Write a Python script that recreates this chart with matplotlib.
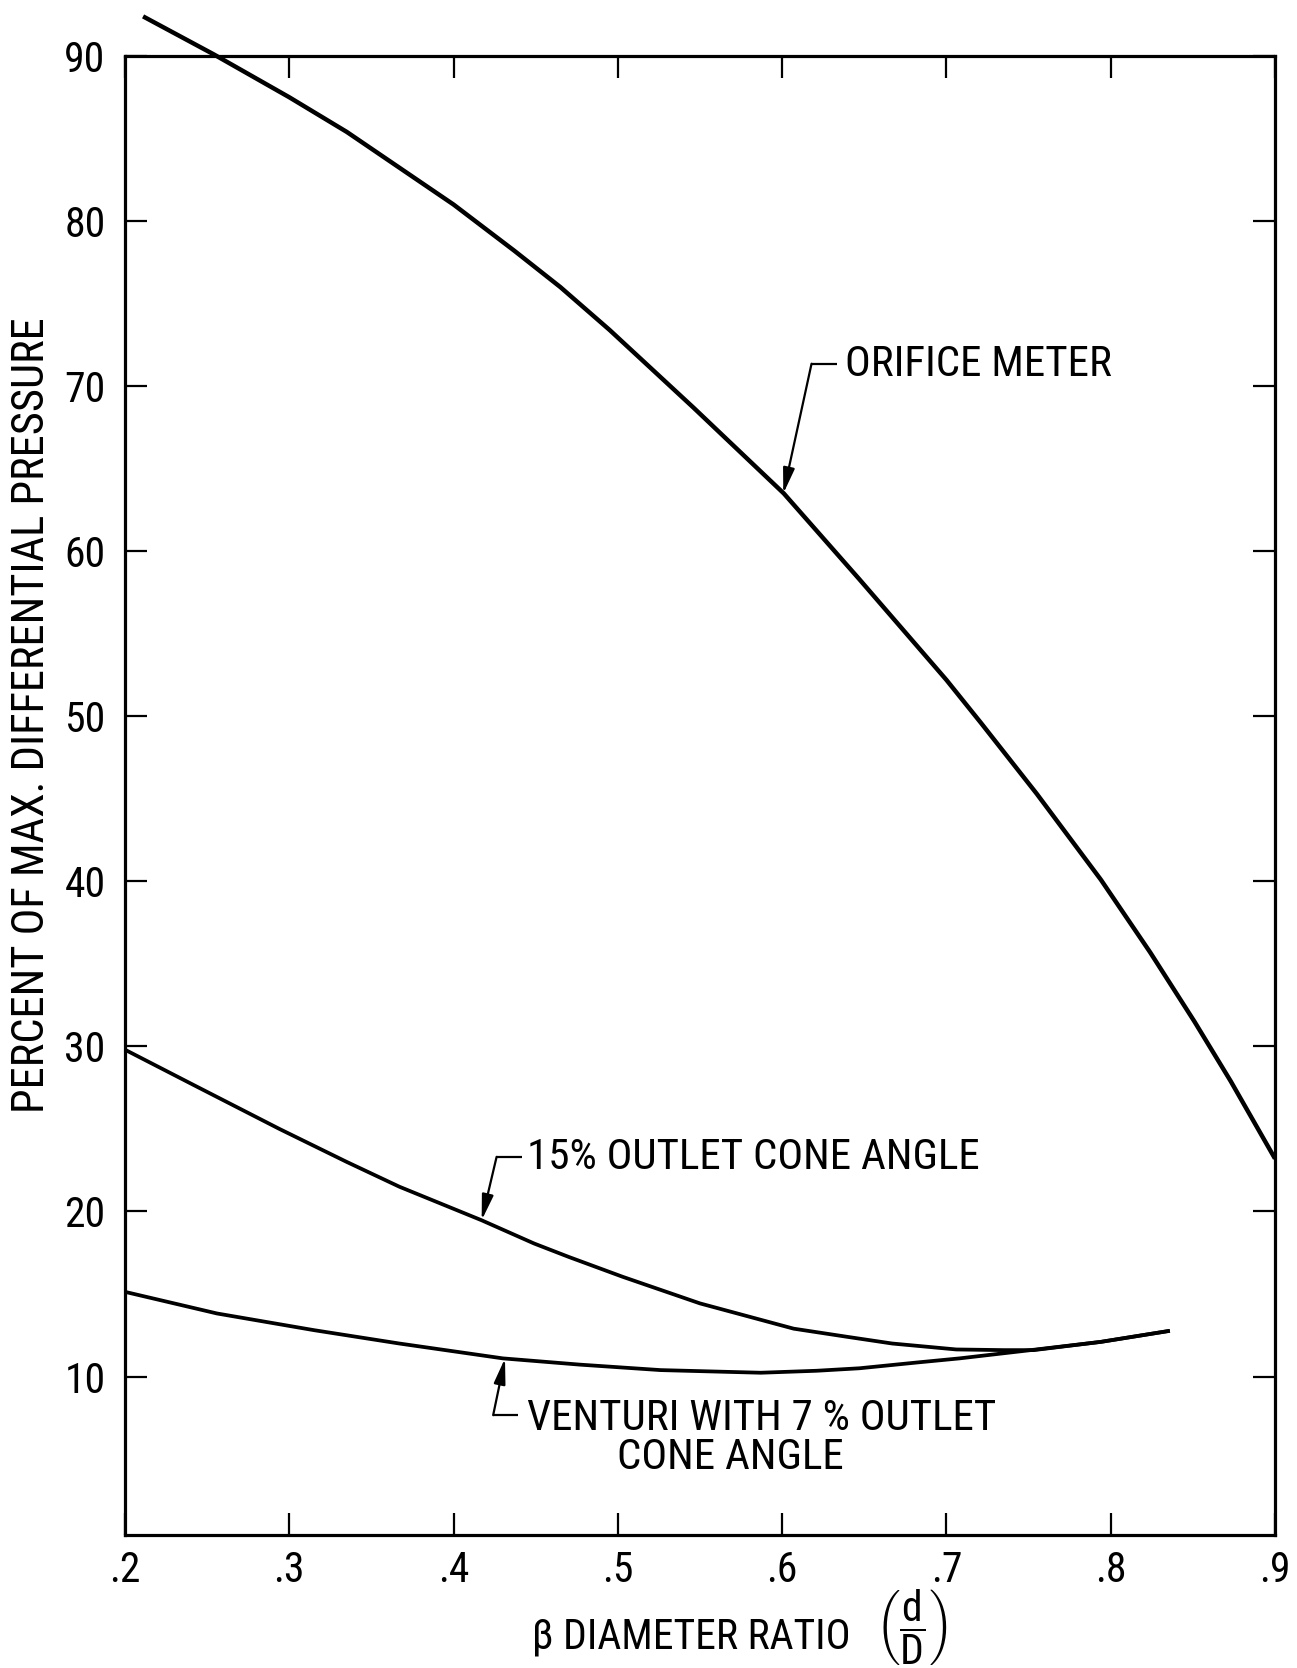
import matplotlib
matplotlib.use("Agg")
import matplotlib.pyplot as plt
from matplotlib import font_manager as fm

# ---------------- data ----------------
beta_orifice = [0.211, 0.254, 0.300, 0.335, 0.400, 0.437, 0.465, 0.495, 0.546, 0.601,
                0.647, 0.700, 0.721, 0.755, 0.794, 0.824, 0.851, 0.873, 0.900]
pct_orifice = [92.4, 90.1, 87.5, 85.4, 81.0, 78.2, 76.0, 73.4, 68.7, 63.5,
               58.3, 52.2, 49.6, 45.3, 40.1, 35.7, 31.5, 27.9, 23.2]

beta_cone15 = [0.200, 0.242, 0.294, 0.335, 0.367, 0.417, 0.449, 0.470, 0.503,
               0.550, 0.607, 0.640, 0.667, 0.706, 0.735, 0.753, 0.794, 0.836]
pct_cone15 = [29.8, 27.65, 25.0, 23.0, 21.5, 19.47, 18.06, 17.25, 16.04,
              14.43, 12.9, 12.4, 12.0, 11.64, 11.6, 11.6, 12.1, 12.77]

beta_venturi7 = [0.200, 0.256, 0.315, 0.367, 0.430, 0.477, 0.526, 0.587, 0.621,
                 0.647, 0.682, 0.708, 0.753, 0.794, 0.836]
pct_venturi7 = [15.13, 13.82, 12.81, 12.0, 11.1, 10.72, 10.39, 10.23, 10.35,
                10.5, 10.85, 11.1, 11.62, 12.1, 12.77]

x_ticks = [0.2, 0.3, 0.4, 0.5, 0.6, 0.7, 0.8, 0.9]
x_tick_labels = [".2", ".3", ".4", ".5", ".6", ".7", ".8", ".9"]
y_ticks = [10, 20, 30, 40, 50, 60, 70, 80, 90]
y_tick_labels = ["10", "20", "30", "40", "50", "60", "70", "80", "90"]

label_orifice = "ORIFICE METER"
label_cone15 = "15% OUTLET CONE ANGLE"
label_venturi_1 = "VENTURI WITH 7 % OUTLET"
label_venturi_2 = "CONE ANGLE"
x_label_text = "β DIAMETER RATIO"
x_label_frac = r"$\left(\dfrac{\mathrm{d}}{\mathrm{D}}\right)$"
y_label = "PERCENT OF MAX. DIFFERENTIAL PRESSURE"

# ---------------- fonts ----------------
available = {f.name for f in fm.fontManager.ttflist}
FONT, STRETCH = "DejaVu Sans", "condensed"
for cand in ["Liberation Sans Narrow", "Roboto Condensed", "Open Sans Condensed"]:
    if cand in available:
        FONT, STRETCH = cand, "normal"
        break

plt.rcParams["font.family"] = [FONT, "DejaVu Sans"]
plt.rcParams["font.stretch"] = STRETCH
plt.rcParams["mathtext.fontset"] = "custom"
plt.rcParams["mathtext.rm"] = FONT
plt.rcParams["mathtext.it"] = FONT
plt.rcParams["mathtext.bf"] = FONT

W, H = 1297, 1668
fig = plt.figure(figsize=(W / 100, H / 100), dpi=100)
L, R, T, B = 125, 1275, 56, 1535
ax = fig.add_axes([L / W, (H - B) / H, (R - L) / W, (B - T) / H])

ax.plot(beta_orifice, pct_orifice, color="black", lw=3.2, clip_on=False,
        solid_capstyle="butt", solid_joinstyle="round")
ax.plot(beta_cone15, pct_cone15, color="black", lw=2.7, solid_capstyle="butt",
        solid_joinstyle="round")
ax.plot(beta_venturi7, pct_venturi7, color="black", lw=2.7, solid_capstyle="butt",
        solid_joinstyle="round")

ax.set_xlim(0.2, 0.9)
ax.set_ylim(0.4, 90.0)
ax.set_xticks(x_ticks)
ax.set_xticklabels(x_tick_labels)
ax.set_yticks(y_ticks)
ax.set_yticklabels(y_tick_labels)
ax.tick_params(direction="in", length=15.8, width=1.6, top=True, right=True,
               labelsize=30, colors="black")
ax.tick_params(axis="x", pad=11)
ax.tick_params(axis="y", pad=14)
for s in ax.spines.values():
    s.set_linewidth(2.3)

# ---------------- annotations ----------------
def leader(tip, corner, hend, text_xy, text):
    ax.plot([corner[0], hend], [corner[1], corner[1]], color="black", lw=1.6,
            solid_capstyle="butt")
    ax.annotate("", xy=tip, xytext=corner,
                arrowprops=dict(arrowstyle="-|>,head_length=1.1,head_width=0.25",
                                color="black", lw=1.6, shrinkA=0, shrinkB=0,
                                mutation_scale=14))
    ax.text(text_xy[0], text_xy[1], text, fontsize=31, va="center", ha="left")

leader((0.6007, 63.49), (0.6179, 71.36), 0.6331, (0.6382, 71.3), label_orifice)
leader((0.4171, 19.47), (0.4262, 23.31), 0.4414, (0.4445, 23.26), label_cone15)
leader((0.4313, 11.10), (0.4241, 7.66), 0.4394, (0.4445, 7.48), label_venturi_1)
ax.text(0.5687, 5.09, label_venturi_2, fontsize=31, va="center", ha="center")

# ---------------- axis labels ----------------
fig.text(32 / W, 1 - 715 / H, y_label, rotation=90, fontsize=32,
         ha="center", va="center")
fig.text(532 / W, 1 - 1637 / H, x_label_text, fontsize=30, ha="left", va="center")
fig.text(912 / W, 1 - 1627 / H, x_label_frac, fontsize=30, ha="center", va="center")

fig.savefig("out.png", dpi=100, facecolor="white")
